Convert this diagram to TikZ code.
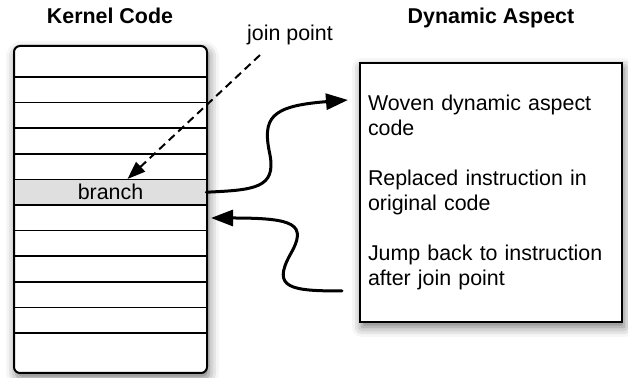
\documentclass[tikz,border=0pt]{standalone}
\usepackage{fontspec}
\setmainfont{Liberation Sans}
\usetikzlibrary{arrows.meta,calc,positioning,shadows.blur}

\begin{document}
\begin{tikzpicture}[x=0.5pt,y=-0.5pt,>={Triangle[length=11pt,width=8pt]},
  font=\fontsize{10.7}{12.5}\selectfont,
  title/.style={font=\fontsize{10.7}{12.5}\selectfont\bfseries,anchor=base},
  box/.style={draw,line width=1pt,fill=white,
    blur shadow={shadow xshift=1pt,shadow yshift=-2.5pt,shadow blur radius=5pt,shadow opacity=55}},
  row/.style={line width=0.8pt},
  flow/.style={->,line width=1.5pt,line cap=round},
  jump/.style={-{Triangle[length=9pt,width=6.5pt]},line width=1pt,dash pattern=on 4pt off 2.5pt}]
  \useasboundingbox (0,0) rectangle (628,378);
  % titles
  \node[title] (kcode) at (110,24) {Kernel Code};
  \node[title] (dyn) at (491,24) {Dynamic Aspect};
  \node (jp) at (290,35) {join point};
  % kernel code with its rows
  \node[box,rounded corners=3pt,minimum width=96.5pt,minimum height=163.5pt,inner sep=0pt] (kernel) at (110.5,209.5) {};
  \node[fill=gray!25,minimum width=95.5pt,minimum height=12.8pt,inner sep=0pt] (branch) at (110.5,192.2) {branch};
  \foreach \k in {0,...,10}{
    \draw[row] (kernel.west |- 0,{77+25.6*\k}) -- (kernel.east |- 0,{77+25.6*\k});
  }
  % aspect
  \node[box,text width=123pt,inner xsep=4pt,minimum height=129.5pt,align=left] (aspect) at (491,192.5)
    {Woven dynamic aspect\\code\\[12.5pt]Replaced instruction in\\original code\\[12.5pt]Jump back to instruction\\after join point};
  \coordinate (wovenin) at (348,100);
  \coordinate (jumpout) at (342,291);
  \coordinate (backin) at ($(kernel.east |- 0,218)+(3,0)$);
  \draw[jump] ($(jp.south)+(-30,3)$) -- ($(branch.north)+(17,0)$);
  \draw[flow] (branch.east) .. controls (255,190) and (276,188) .. (270,155)
    .. controls (262,118) and (270,106) .. (wovenin);
  \draw[flow] (jumpout) .. controls (290,291) and (272,288) .. (290,255)
    .. controls (308,224) and (295,218) .. (backin);
\end{tikzpicture}
\end{document}
